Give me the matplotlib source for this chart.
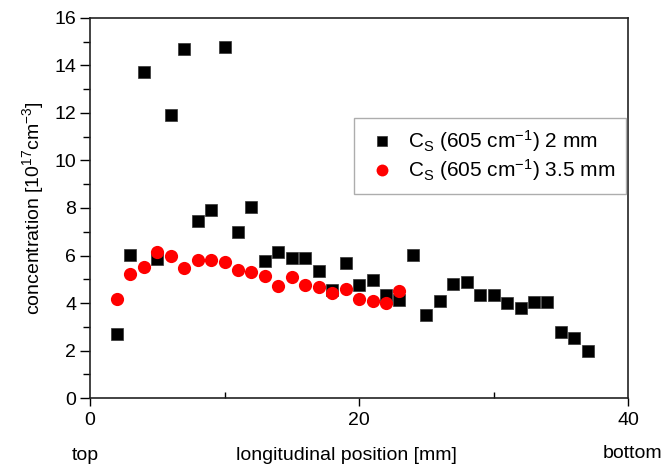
import matplotlib
matplotlib.use("Agg")
import matplotlib.pyplot as plt
from matplotlib.ticker import MultipleLocator

plt.rcParams["font.family"] = ["Liberation Sans", "DejaVu Sans"]
plt.rcParams["mathtext.fontset"] = "custom"
plt.rcParams["mathtext.rm"] = "Liberation Sans"
plt.rcParams["mathtext.it"] = "Liberation Sans"

# position along the sample [mm]
pos_2mm = list(range(2, 38))
conc_2mm = [2.69, 6.04, 13.74, 5.85, 11.92, 14.68, 7.44, 7.92, 14.76, 6.97,
            8.03, 5.78, 6.16, 5.88, 5.88, 5.36, 4.55, 5.70, 4.76, 4.97,
            4.34, 4.13, 6.04, 3.49, 4.08, 4.79, 4.87, 4.34, 4.34, 3.99,
            3.80, 4.03, 4.03, 2.77, 2.51, 1.98]

pos_35mm = list(range(2, 24))
conc_35mm = [4.17, 5.21, 5.53, 6.16, 5.99, 5.49, 5.81, 5.81, 5.74, 5.39,
             5.32, 5.15, 4.73, 5.11, 4.74, 4.69, 4.43, 4.60, 4.17, 4.08,
             4.01, 4.50]

fig = plt.figure(figsize=(6.64, 4.7), dpi=100)
ax = fig.add_axes([0.1355, 0.153, 0.8105, 0.809])

ax.plot(pos_2mm, conc_2mm, "s", color="black", ms=8, mec="#333333", mew=0.5,
        linestyle="none", label=r"C$_\mathrm{S}$ (605 cm$^{-1}$) 2 mm")
ax.plot(pos_35mm, conc_35mm, "o", color="red", ms=9.5, mew=0,
        linestyle="none", label=r"C$_\mathrm{S}$ (605 cm$^{-1}$) 3.5 mm")

ax.set_xlim(0, 40)
ax.set_ylim(0, 16)
ax.xaxis.set_major_locator(MultipleLocator(20))
ax.xaxis.set_minor_locator(MultipleLocator(10))
ax.yaxis.set_major_locator(MultipleLocator(2))
ax.yaxis.set_minor_locator(MultipleLocator(1))
ax.tick_params(axis="x", which="major", direction="out", length=6, width=1, labelsize=14, pad=4)
ax.tick_params(axis="x", which="minor", direction="in", length=4, width=1)
ax.tick_params(axis="y", which="both", direction="out", width=1, labelsize=14, pad=3)
ax.tick_params(axis="y", which="major", length=7)
ax.tick_params(axis="y", which="minor", length=5)
for sp in ax.spines.values():
    sp.set_linewidth(1.2)
    sp.set_color("#222222")

ax.set_ylabel(r"concentration [10$^{17}$cm$^{-3}$]", fontsize=14, labelpad=6)

fig.text(85 / 664, 1 - 455 / 470, "top", fontsize=14, ha="center", va="center")
fig.text(346 / 664, 1 - 455 / 470, "longitudinal position [mm]", fontsize=14, ha="center", va="center")
fig.text(633 / 664, 1 - 453 / 470, "bottom", fontsize=14, ha="center", va="center")

leg = ax.legend(loc="upper right", bbox_to_anchor=(0.996, 0.737), fontsize=15,
                fancybox=False, edgecolor="#999999", borderpad=0.5,
                handlelength=1.7, handletextpad=0.4, labelspacing=0.15,
                borderaxespad=0, markerscale=0.9)
leg.get_frame().set_linewidth(1.0)

fig.savefig("out.png", dpi=100)
